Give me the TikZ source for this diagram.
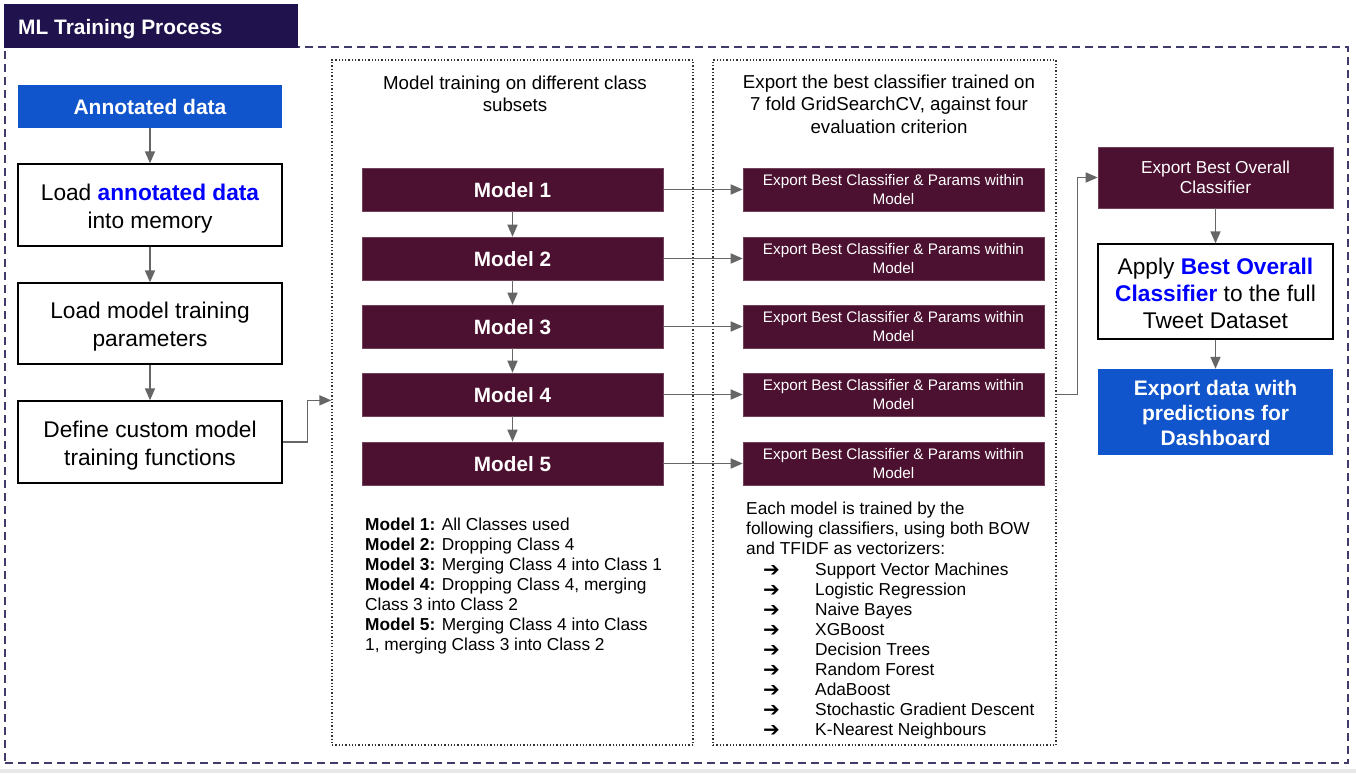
\documentclass[tikz,border=0pt]{standalone}
\usepackage{fontspec}
\setmainfont{Liberation Sans}
\newfontfamily\dejavu{DejaVu Sans}
\usetikzlibrary{arrows.meta,calc}
\definecolor{navy}{HTML}{20124D}
\definecolor{maroon}{HTML}{4C1130}
\definecolor{gblue}{HTML}{1155CC}
\definecolor{pureblue}{HTML}{0000FF}
\definecolor{arrowgray}{HTML}{666666}
\definecolor{framecol}{HTML}{3F3B6B}
\newcommand\fsz[2]{\fontsize{#1}{#2}\selectfont}
\newcommand\lowr[1]{\rule{0pt}{#1}}
\begin{document}
\begin{tikzpicture}[x=1pt,y=-1pt,
  whitebox/.style={draw=black,line width=1.3pt,fill=white,minimum width=264pt,inner sep=0pt,align=center,font=\fsz{22.7}{28}},
  bluebox/.style={fill=gblue,text=white,inner sep=0pt,align=center,font=\bfseries\fsz{21}{25}},
  modelbox/.style={fill=maroon,draw=maroon!80!white,line width=0.6pt,text=white,minimum width=301pt,minimum height=43pt,inner sep=0pt,font=\bfseries\fsz{20.7}{24}},
  expbox/.style={fill=maroon,draw=maroon!80!white,line width=0.6pt,text=white,minimum width=301pt,minimum height=43pt,inner sep=0pt,align=center,font=\fsz{15.3}{18.5}},
  dotbox/.style={draw=black!80,dotted,line width=1.3pt,inner sep=0pt},
  arr/.style={draw=arrowgray,line width=1.6pt,-{Triangle[length=12pt,width=10pt]}},
  plain/.style={inner sep=0pt,anchor=base west,font=\fsz{17.3}{20}},
  coltitle/.style={inner sep=0pt,align=center,font=\fsz{18.7}{22.5}}
]
\useasboundingbox (0,0) rectangle (1356,773);
\fill[white] (0,0) rectangle (1356,773);
\fill[black!9] (0,768.5) rectangle (1356,773);

% outer frame and title
\node[draw=framecol,dash pattern=on 8pt off 5pt,line width=1.3pt,minimum width=1343pt,minimum height=716pt,inner sep=0pt] (frame) at (676.5,405) {};
\node[fill=navy,minimum width=294pt,minimum height=44pt,inner sep=0pt] (titlebox) at (151,26) {};
\node[inner sep=0pt,anchor=base west,text=white,font=\bfseries\fsz{20.9}{24}] (title) at (18,34.5) {ML Training Process};

% left column
\node[bluebox,minimum width=264pt,minimum height=43pt] (annot) at (150,106.5) {Annotated data};
\node[whitebox,minimum height=82pt] (load1) at (150,205) {\lowr{23pt}Load {\color{pureblue}\bfseries annotated data}\\into memory};
\node[whitebox,minimum height=81pt] (load2) at (150,323.5) {\lowr{23pt}Load model training\\parameters};
\node[whitebox,minimum height=82pt] (define) at (150,442) {\lowr{23pt}Define custom model\\training functions};

% dotted columns
\node[dotbox,minimum width=361pt,minimum height=685pt] (col1) at (512.5,402.5) {};
\node[dotbox,minimum width=343pt,minimum height=685pt] (col2) at (884.5,402.5) {};
\node[coltitle] (t1) at (515,94) {Model training on different class\\subsets};
\node[coltitle] (t2) at (889,104) {Export the best classifier trained on\\7 fold GridSearchCV, against four\\evaluation criterion};

% models and exports
\foreach \i/\yy in {1/189.5,2/258.5,3/326.5,4/394.5,5/463.5}{
  \node[modelbox] (m\i) at (512.5,\yy) {\lowr{16pt}Model \i};
  \node[expbox] (e\i) at (893.5,\yy) {Export Best Classifier \& Params within\\Model};
  \draw[arr] (m\i.east) -- (e\i.west);
}
\foreach \i/\j in {1/2,2/3,3/4,4/5}{
  \draw[arr] (m\i) -- (m\j);
}

% model descriptions
\node[plain] (d1) at (365,530) {\textbf{Model 1:} All Classes used};
\node[plain] (d2) at (365,550) {\textbf{Model 2:} Dropping Class 4};
\node[plain] (d3) at (365,570) {\textbf{Model 3:} Merging Class 4 into Class 1};
\node[plain] (d4) at (365,590) {\textbf{Model 4:} Dropping Class 4, merging};
\node[plain] (d5) at (365,610) {Class 3 into Class 2};
\node[plain] (d6) at (365,630) {\textbf{Model 5:} Merging Class 4 into Class};
\node[plain] (d7) at (365,650.5) {1, merging Class 3 into Class 2};

% classifier list
\node[plain] (c1) at (746,514) {Each model is trained by the};
\node[plain] (c2) at (746,534) {following classifiers, using both BOW};
\node[plain] (c3) at (746,554) {and TFIDF as vectorizers:};
\foreach \k/\yy/\txt in {1/575/Support Vector Machines,2/595/Logistic Regression,3/615/Naive Bayes,4/635/XGBoost,5/655/Decision Trees,6/675/Random Forest,7/695/AdaBoost,8/715/Stochastic Gradient Descent,9/735/K-Nearest Neighbours}{
  \node[plain,font=\dejavu\bfseries\fsz{20}{20}] (a\k) at (763,\yy+1) {➔};
  \node[plain] (li\k) at (815,\yy) {\txt};
}

% right column
\node[expbox,minimum width=235pt,minimum height=61pt,font=\fsz{17.3}{20}] (best) at (1215.5,177.5) {Export Best Overall\\Classifier};
\node[whitebox,minimum width=235pt,minimum height=95pt,font=\fsz{22.7}{27}] (apply) at (1215.5,291.5) {\lowr{21pt}Apply {\color{pureblue}\bfseries Best Overall}\\{\color{pureblue}\bfseries Classifier} to the full\\Tweet Dataset};
\node[bluebox,minimum width=235pt,minimum height=86pt] (expdata) at (1215.5,412) {\lowr{17pt}Export data with\\predictions for\\Dashboard};

% connectors
\draw[arr] (annot) -- (load1);
\draw[arr] (load1) -- (load2);
\draw[arr] (load2) -- (define);
\draw[arr] (define.east) -- ++(25,0) |- (col1.west |- define.north);
\coordinate (c4out) at (col2.east |- e4);
\draw[arr] (c4out) -- ++(21,0) |- (best.west);
\draw[arr] (best) -- (apply);
\draw[arr] (apply) -- (expdata);
\end{tikzpicture}
\end{document}
